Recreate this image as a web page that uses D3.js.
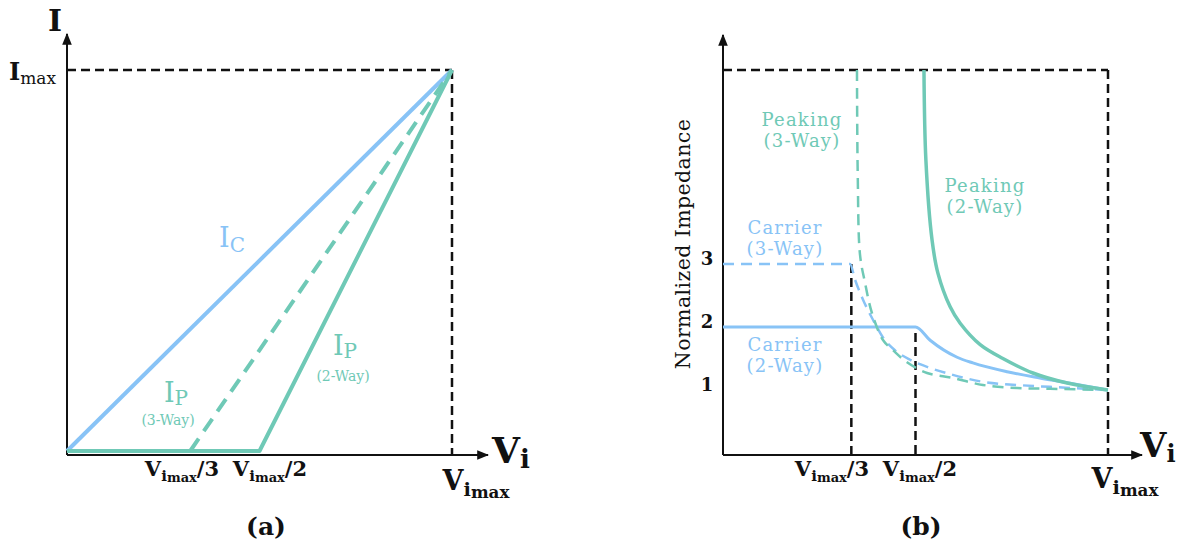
<!DOCTYPE html>
<html>
<head>
<meta charset="utf-8">
<script src="https://cdn.jsdelivr.net/npm/d3@7"></script>
<style>
  body { margin: 0; background: #fff; }
  svg { display: block; }
  text { font-family: "DejaVu Serif", serif; }
</style>
</head>
<body>
<div id="chart"></div>
<script>
// colours
const blue = "#88c3f6";
const green = "#6fc9b6";

// panel (a): currents vs input voltage (fractions of Vimax / Imax)
const icPts = [[0, 0], [1, 1]];
const ip2Pts = [[0, 0], [0.5, 0], [1, 1]];
const ip3Pts = [[0.32, 0], [1, 1]];

// panel (b): normalized impedance vs input voltage
const carrier2 = [[0, 2], [0.5, 2], [0.538, 1.79], [0.608, 1.52], [0.649, 1.43], [0.738, 1.29], [0.823, 1.19], [0.909, 1.10], [1, 1]];
const carrier3 = [[0, 3], [0.330, 3], [0.343, 2.75], [0.364, 2.43], [0.390, 2.11], [0.416, 1.83], [0.447, 1.63], [0.486, 1.48], [0.538, 1.35], [0.597, 1.24], [0.675, 1.13], [0.764, 1.08], [0.849, 1.05], [1, 1]];
const peaking2 = [[0.522, 6.08], [0.527, 4.65], [0.543, 3.38], [0.558, 2.86], [0.590, 2.32], [0.616, 2.06], [0.668, 1.72], [0.727, 1.50], [0.805, 1.27], [0.894, 1.11], [1, 1]];
const peaking3 = [[0.348, 6.08], [0.350, 4.4], [0.356, 3.14], [0.369, 2.70], [0.387, 2.22], [0.416, 1.79], [0.442, 1.63], [0.478, 1.44], [0.530, 1.27], [0.597, 1.19], [0.675, 1.08], [0.764, 1.03], [0.849, 1.02], [1, 1]];

// axis ticks
const zTicks = [1, 2, 3];
const zTop = 6.08;
const vTicks = [1 / 3, 1 / 2];
const vTickText = ["/3", "/2"];

const svg = d3.select("#chart").append("svg")
  .attr("width", 1181).attr("height", 549);

const defs = svg.append("defs");
defs.append("marker")
  .attr("id", "arrow")
  .attr("viewBox", "0 0 10 10")
  .attr("refX", 9).attr("refY", 5)
  .attr("markerWidth", 6).attr("markerHeight", 6)
  .attr("markerUnits", "strokeWidth")
  .attr("orient", "auto")
  .append("path").attr("d", "M0,1 L10,5 L0,9 Z").attr("fill", "#111");

// text with sub/superscript parts: {t, size, bold, shift}
function mathText(g, x, y, anchor, parts, fill) {
  const t = g.append("text").attr("x", x).attr("y", y)
    .attr("text-anchor", anchor).attr("fill", fill || "#111");
  let prev = 0;
  parts.forEach(p => {
    const s = p.shift || 0;
    t.append("tspan")
      .attr("dy", s - prev)
      .attr("font-size", p.size)
      .attr("font-weight", p.bold ? "bold" : "normal")
      .text(p.t);
    prev = s;
  });
  return t;
}

// two-line label in one text element
function twoLine(g, x, y, lines, size, gap, fill) {
  const t = g.append("text").attr("x", x).attr("y", y)
    .attr("text-anchor", "middle").attr("font-size", size)
    .attr("letter-spacing", 1.2).attr("fill", fill);
  lines.forEach((s, i) => {
    t.append("tspan").attr("x", x).attr("dy", i ? gap : 0).text(s);
  });
}

function dashed(g, x1, y1, x2, y2) {
  g.append("line")
    .attr("x1", x1).attr("y1", y1).attr("x2", x2).attr("y2", y2)
    .attr("stroke", "#111").attr("stroke-width", 2.5)
    .attr("stroke-dasharray", "9,5");
}

function axes(g, x0, y0, xEnd, yEnd) {
  g.append("line").attr("x1", x0).attr("y1", y0).attr("x2", xEnd).attr("y2", y0)
    .attr("stroke", "#111").attr("stroke-width", 2).attr("marker-end", "url(#arrow)");
  g.append("line").attr("x1", x0).attr("y1", y0).attr("x2", x0).attr("y2", yEnd)
    .attr("stroke", "#111").attr("stroke-width", 2).attr("marker-end", "url(#arrow)");
}

function vimaxParts(size, tail) {
  const parts = [
    { t: "V", size: size, bold: true },
    { t: "i", size: size * 0.72, bold: true, shift: size * 0.22 },
    { t: "max", size: size * 0.62, bold: true, shift: size * 0.3 }
  ];
  if (tail) parts.push({ t: tail, size: size, bold: true, shift: 0 });
  return parts;
}

// ---------- panel (a) ----------
const ga = svg.append("g");
const xA = d3.scaleLinear().domain([0, 1]).range([67, 452]);
const yA = d3.scaleLinear().domain([0, 1]).range([451, 70]);

dashed(ga, xA(0), yA(1), xA(1), yA(1));
dashed(ga, xA(1), yA(1), xA(1), 455);
axes(ga, xA(0), 455, 488, 34);

const lineA = d3.line().x(d => xA(d[0])).y(d => yA(d[1]));
ga.append("path").attr("d", lineA(icPts)).attr("fill", "none")
  .attr("stroke", blue).attr("stroke-width", 4);
ga.append("path").attr("d", lineA(ip2Pts)).attr("fill", "none")
  .attr("stroke", green).attr("stroke-width", 4).attr("stroke-linejoin", "round");
ga.append("path").attr("d", lineA(ip3Pts)).attr("fill", "none")
  .attr("stroke", green).attr("stroke-width", 4).attr("stroke-dasharray", "15,9");

mathText(ga, 55, 31, "middle", [{ t: "I", size: 30, bold: true }]);
mathText(ga, 9, 80, "start", [{ t: "I", size: 24, bold: true }, { t: "max", size: 17, shift: 4 }]);
mathText(ga, 492, 463, "start", [{ t: "V", size: 36, bold: true }, { t: "i", size: 26, bold: true, shift: 5 }]);

mathText(ga, 182, 476, "middle", vimaxParts(21, vTickText[0]));
mathText(ga, 270, 476, "middle", vimaxParts(21, vTickText[1]));
mathText(ga, xA(1) + 24, 490, "middle", vimaxParts(27));

mathText(ga, 232, 247, "middle", [{ t: "I", size: 27 }, { t: "C", size: 20, shift: 5 }], blue);
mathText(ga, 176, 402, "middle", [{ t: "I", size: 27 }, { t: "P", size: 20, shift: 3 }], green);
mathText(ga, 168, 425, "middle", [{ t: "(3-Way)", size: 14 }], green);
mathText(ga, 345, 355, "middle", [{ t: "I", size: 27 }, { t: "P", size: 20, shift: 3 }], green);
mathText(ga, 343, 381, "middle", [{ t: "(2-Way)", size: 14 }], green);

mathText(ga, 266, 535, "middle", [{ t: "(a)", size: 25, bold: true }]);

// ---------- panel (b) ----------
const gb = svg.append("g");
const xB = d3.scaleLinear().domain([0, 1]).range([723, 1108]);
const yB = d3.scaleLinear().domain([0, zTop]).range([453, 70]);

dashed(gb, xB(0), yB(zTop), xB(1), yB(zTop));
dashed(gb, xB(1), yB(zTop), xB(1), 455);
dashed(gb, xB(vTicks[0]), yB(3), xB(vTicks[0]), 455);
dashed(gb, xB(vTicks[1]), yB(2) + 6, xB(vTicks[1]), 455);
axes(gb, xB(0), 455, 1142, 35);

const lineMono = d3.line().x(d => xB(d[0])).y(d => yB(d[1])).curve(d3.curveMonotoneX);
const lineCR = d3.line().x(d => xB(d[0])).y(d => yB(d[1])).curve(d3.curveCatmullRom.alpha(0.5));

gb.append("path").attr("d", lineMono(carrier2)).attr("fill", "none")
  .attr("stroke", blue).attr("stroke-width", 3);
gb.append("path").attr("d", lineMono(carrier3)).attr("fill", "none")
  .attr("stroke", blue).attr("stroke-width", 2.5).attr("stroke-dasharray", "11,7");
gb.append("path").attr("d", lineCR(peaking3)).attr("fill", "none")
  .attr("stroke", green).attr("stroke-width", 2.5).attr("stroke-dasharray", "11,7");
gb.append("path").attr("d", lineCR(peaking2)).attr("fill", "none")
  .attr("stroke", green).attr("stroke-width", 3.5);

zTicks.forEach(z => {
  mathText(gb, 707, yB(z) + 1, "middle", [{ t: String(z), size: 18, bold: true }]);
});

gb.append("text")
  .attr("transform", "translate(690,244) rotate(-90)")
  .attr("text-anchor", "middle")
  .attr("font-size", 20.5)
  .attr("letter-spacing", 0.4)
  .attr("fill", "#111")
  .text("Normalized Impedance");

mathText(gb, 1140, 457, "start", [{ t: "V", size: 34, bold: true }, { t: "i", size: 24, bold: true, shift: 5 }]);
mathText(gb, 832, 476, "middle", vimaxParts(21, vTickText[0]));
mathText(gb, 920, 476, "middle", vimaxParts(21, vTickText[1]));
mathText(gb, 1125, 488, "middle", vimaxParts(27));

twoLine(gb, 802, 126, ["Peaking", "(3-Way)"], 18, 21, green);
twoLine(gb, 985, 192, ["Peaking", "(2-Way)"], 18, 21, green);
twoLine(gb, 785, 234, ["Carrier", "(3-Way)"], 18, 21, blue);
twoLine(gb, 785, 351, ["Carrier", "(2-Way)"], 18, 21, blue);

mathText(gb, 921, 535, "middle", [{ t: "(b)", size: 25, bold: true }]);
</script>
</body>
</html>
